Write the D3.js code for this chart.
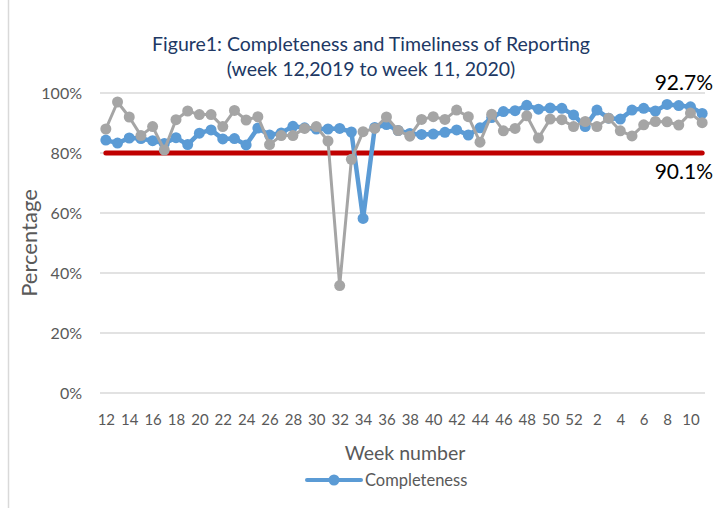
<!DOCTYPE html>
<html>
<head>
<meta charset="utf-8">
<script src="https://cdn.jsdelivr.net/npm/d3@7"></script>
<style>
  body { margin: 0; background: #fff; }
  text { font-family: Lato, 'Noto Sans', sans-serif; }
</style>
</head>
<body>
<svg id="chart"></svg>
<script>
const weeks = [12, 13, 14, 15, 16, 17, 18, 19, 20, 21, 22, 23, 24, 25, 26, 27, 28, 29, 30, 31,
  32, 33, 34, 35, 36, 37, 38, 39, 40, 41, 42, 43, 44, 45, 46, 47, 48, 49, 50, 51, 52,
  1, 2, 3, 4, 5, 6, 7, 8, 9, 10, 11];

const completeness = [84.3, 83.3, 85.0, 84.8, 84.1, 83.2, 85.1, 82.8, 86.6, 87.7, 84.7, 84.8, 82.7, 88.3, 86.0, 86.7, 88.9, 88.4,
  88.0, 88.0, 88.2, 87.0, 58.2, 88.5, 89.5, 87.5, 86.5, 86.2, 86.3, 86.9, 87.7, 86.0, 88.4, 91.8,
  93.8, 94.1, 95.9, 94.6, 95.0, 94.9, 92.7, 88.8, 94.3, 91.6, 91.3, 94.3, 94.9, 94.0, 96.2, 95.8, 95.4, 93.2];

const timeliness = [88.0, 97.0, 92.0, 85.8, 88.8, 81.0, 91.1, 94.0, 92.8, 92.8, 88.8, 94.2, 91.0, 92.1, 82.8, 85.8, 85.8, 88.2,
  88.8, 84.0, 35.8, 77.9, 87.1, 88.2, 92.0, 87.5, 85.6, 91.2, 92.1, 91.2, 94.3, 92.1, 83.6, 92.9,
  87.4, 88.2, 92.4, 85.0, 91.3, 91.1, 88.8, 90.5, 88.8, 91.6, 87.4, 85.7, 89.4, 90.5, 90.4, 89.3, 93.3, 90.1];

const target = weeks.map(() => 80);

const yTicks = [0, 20, 40, 60, 80, 100];
const titleLines = ['Figure1: Completeness and Timeliness of Reporting', '(week 12,2019 to week 11, 2020)'];
const notes = [{ text: '92.7%', y: 100 }, { text: '90.1%', y: 80 }];

const width = 718;
const height = 508;

const svg = d3.select('#chart')
  .attr('width', width)
  .attr('height', height);

// chart border (only the left edge shows in the crop)
svg.append('line')
  .attr('x1', 8.5).attr('x2', 8.5)
  .attr('y1', 0).attr('y2', height)
  .attr('stroke', '#d9d9d9')
  .attr('stroke-width', 1.5);

const x = d3.scalePoint()
  .domain(d3.range(weeks.length))
  .range([100, 708])
  .padding(0.5);

const y = d3.scaleLinear()
  .domain([0, 100])
  .range([393, 93]);

// title
svg.append('g')
  .selectAll('text')
  .data(titleLines)
  .enter().append('text')
    .attr('x', 371)
    .attr('y', (d, i) => 51 + i * 25)
    .attr('text-anchor', 'middle')
    .attr('font-size', 19.5)
    .attr('fill', '#203864')
    .text(d => d);

// grid
svg.append('g')
  .selectAll('line')
  .data(yTicks)
  .enter().append('line')
    .attr('x1', 100)
    .attr('x2', 705)
    .attr('y1', d => y(d))
    .attr('y2', d => y(d))
    .attr('stroke', '#d9d9d9')
    .attr('stroke-width', 1.5);

// y axis labels
const yAxis = svg.append('g')
  .attr('transform', 'translate(82,0)')
  .call(d3.axisLeft(y).tickValues(yTicks).tickSize(0).tickPadding(0).tickFormat(d => d + '%'));
yAxis.select('.domain').remove();
yAxis.selectAll('text')
  .attr('font-size', 16)
  .attr('fill', '#595959')
  .attr('font-family', null);

// x axis labels
const xAxis = svg.append('g')
  .attr('transform', 'translate(0,414)')
  .call(d3.axisBottom(x)
    .tickValues(d3.range(0, weeks.length, 2))
    .tickSize(0)
    .tickPadding(0)
    .tickFormat(i => weeks[i]));
xAxis.select('.domain').remove();
xAxis.selectAll('text')
  .attr('font-size', 15)
  .attr('fill', '#595959')
  .attr('font-family', null);

// axis titles
svg.append('text')
  .attr('transform', 'translate(37,243) rotate(-90)')
  .attr('text-anchor', 'middle')
  .attr('font-size', 22)
  .attr('fill', '#595959')
  .text('Percentage');

svg.append('text')
  .attr('x', 405)
  .attr('y', 460)
  .attr('text-anchor', 'middle')
  .attr('font-size', 19.5)
  .attr('fill', '#595959')
  .text('Week number');

const line = d3.line()
  .x((d, i) => x(i))
  .y(d => y(d));

// target line
svg.append('path')
  .datum(target)
  .attr('d', line)
  .attr('fill', 'none')
  .attr('stroke', '#c00000')
  .attr('stroke-width', 5)
  .attr('stroke-linecap', 'round');

const drawSeries = (values, color, lineWidth, r) => {
  const g = svg.append('g');
  g.append('path')
    .datum(values)
    .attr('d', line)
    .attr('fill', 'none')
    .attr('stroke', color)
    .attr('stroke-width', lineWidth)
    .attr('stroke-linejoin', 'round');
  g.selectAll('circle')
    .data(values)
    .enter().append('circle')
      .attr('cx', (d, i) => x(i))
      .attr('cy', d => y(d))
      .attr('r', r)
      .attr('fill', color);
};

drawSeries(completeness, '#5b9bd5', 4.5, 5.5);
drawSeries(timeliness, '#a5a5a5', 3, 5.5);

// value notes at right
svg.append('g')
  .selectAll('text')
  .data(notes)
  .enter().append('text')
    .attr('x', 713)
    .attr('y', (d, i) => i === 0 ? y(d.y) - 3 : y(d.y) + 26)
    .attr('text-anchor', 'end')
    .attr('font-size', 21)
    .attr('fill', '#000')
    .text(d => d.text);

// legend
const legend = svg.append('g').attr('transform', 'translate(0,480)');
legend.append('line')
  .attr('x1', 307).attr('x2', 361)
  .attr('stroke', '#5b9bd5')
  .attr('stroke-width', 4)
  .attr('stroke-linecap', 'round');
legend.append('circle')
  .attr('cx', 334)
  .attr('r', 5.5)
  .attr('fill', '#5b9bd5');
legend.append('text')
  .attr('x', 365)
  .attr('y', 6)
  .attr('font-size', 16.5)
  .attr('fill', '#595959')
  .text('Completeness');
</script>
</body>
</html>
